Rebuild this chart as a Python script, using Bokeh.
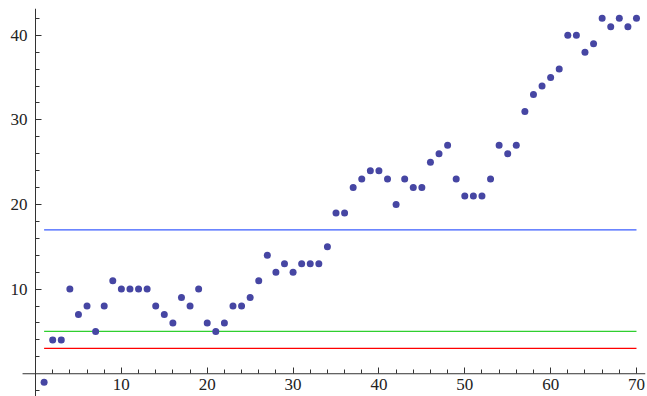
from bokeh.plotting import figure
from bokeh.models import FixedTicker, Range1d
from bokeh.embed import file_html
from bokeh.resources import INLINE

x_vals = list(range(1, 71))
y_vals = [-1, 4, 4, 10, 7, 8, 5, 8, 11, 10,
          10, 10, 10, 8, 7, 6, 9, 8, 10, 6,
          5, 6, 8, 8, 9, 11, 14, 12, 13, 12,
          13, 13, 13, 15, 19, 19, 22, 23, 24, 24,
          23, 20, 23, 22, 22, 25, 26, 27, 23, 21,
          21, 21, 23, 27, 26, 27, 31, 33, 34, 35,
          36, 40, 40, 38, 39, 42, 41, 42, 41, 42]

line_levels = [17, 5, 3]
line_colors = ["#3a5cff", "#2fcf2f", "#ff0000"]
line_x = [1, 70]

x_major = [10, 20, 30, 40, 50, 60, 70]
x_minor = [2, 4, 6, 8, 12, 14, 16, 18, 22, 24, 26, 28, 32, 34, 36, 38,
           42, 44, 46, 48, 52, 54, 56, 58, 62, 64, 66, 68]
y_major = [10, 20, 30, 40]
y_minor = [-2, 2, 4, 6, 8, 12, 14, 16, 18, 22, 24, 26, 28, 32, 34, 36, 38, 42]

# extent of the horizontal axis line (it starts a little left of the y axis)
x_axis_extent = [-1.51, 71.05]

AXIS_COL = "#333333"

p = figure(width=647, height=396, output_backend="svg", toolbar_location=None,
           x_range=Range1d(-3.73, 71.05), y_range=Range1d(-2.69, 43.16),
           min_border_left=3, min_border_right=2, min_border_top=8, min_border_bottom=0)
p.outline_line_color = None
p.xgrid.visible = False
p.ygrid.visible = False
p.background_fill_color = "white"

for ax, maj, mnr in ((p.xaxis[0], x_major, x_minor), (p.yaxis[0], y_major, y_minor)):
    ax.ticker = FixedTicker(ticks=maj, minor_ticks=mnr)
    ax.fixed_location = 0
    ax.axis_line_color = AXIS_COL
    ax.major_tick_line_color = AXIS_COL
    ax.minor_tick_line_color = AXIS_COL
    ax.major_tick_in = 6
    ax.major_tick_out = 0
    ax.minor_tick_in = 4
    ax.minor_tick_out = 0
    ax.major_label_text_font = "Liberation Serif"
    ax.major_label_text_font_size = "17px"
    ax.major_label_text_color = "#222222"

p.xaxis[0].major_label_standoff = 5
p.yaxis[0].major_label_standoff = 8
p.xaxis[0].axis_line_color = None

# the horizontal axis line, shortened on the left
p.line(x=x_axis_extent, y=[0, 0], line_color=AXIS_COL, line_width=1)

for lvl, col in zip(line_levels, line_colors):
    p.line(x=line_x, y=[lvl, lvl], line_color=col, line_width=1.2)

p.scatter(x=x_vals, y=y_vals, size=7, fill_color="#4646a3", line_color=None)

open("out.html", "w").write(file_html(p, INLINE))
